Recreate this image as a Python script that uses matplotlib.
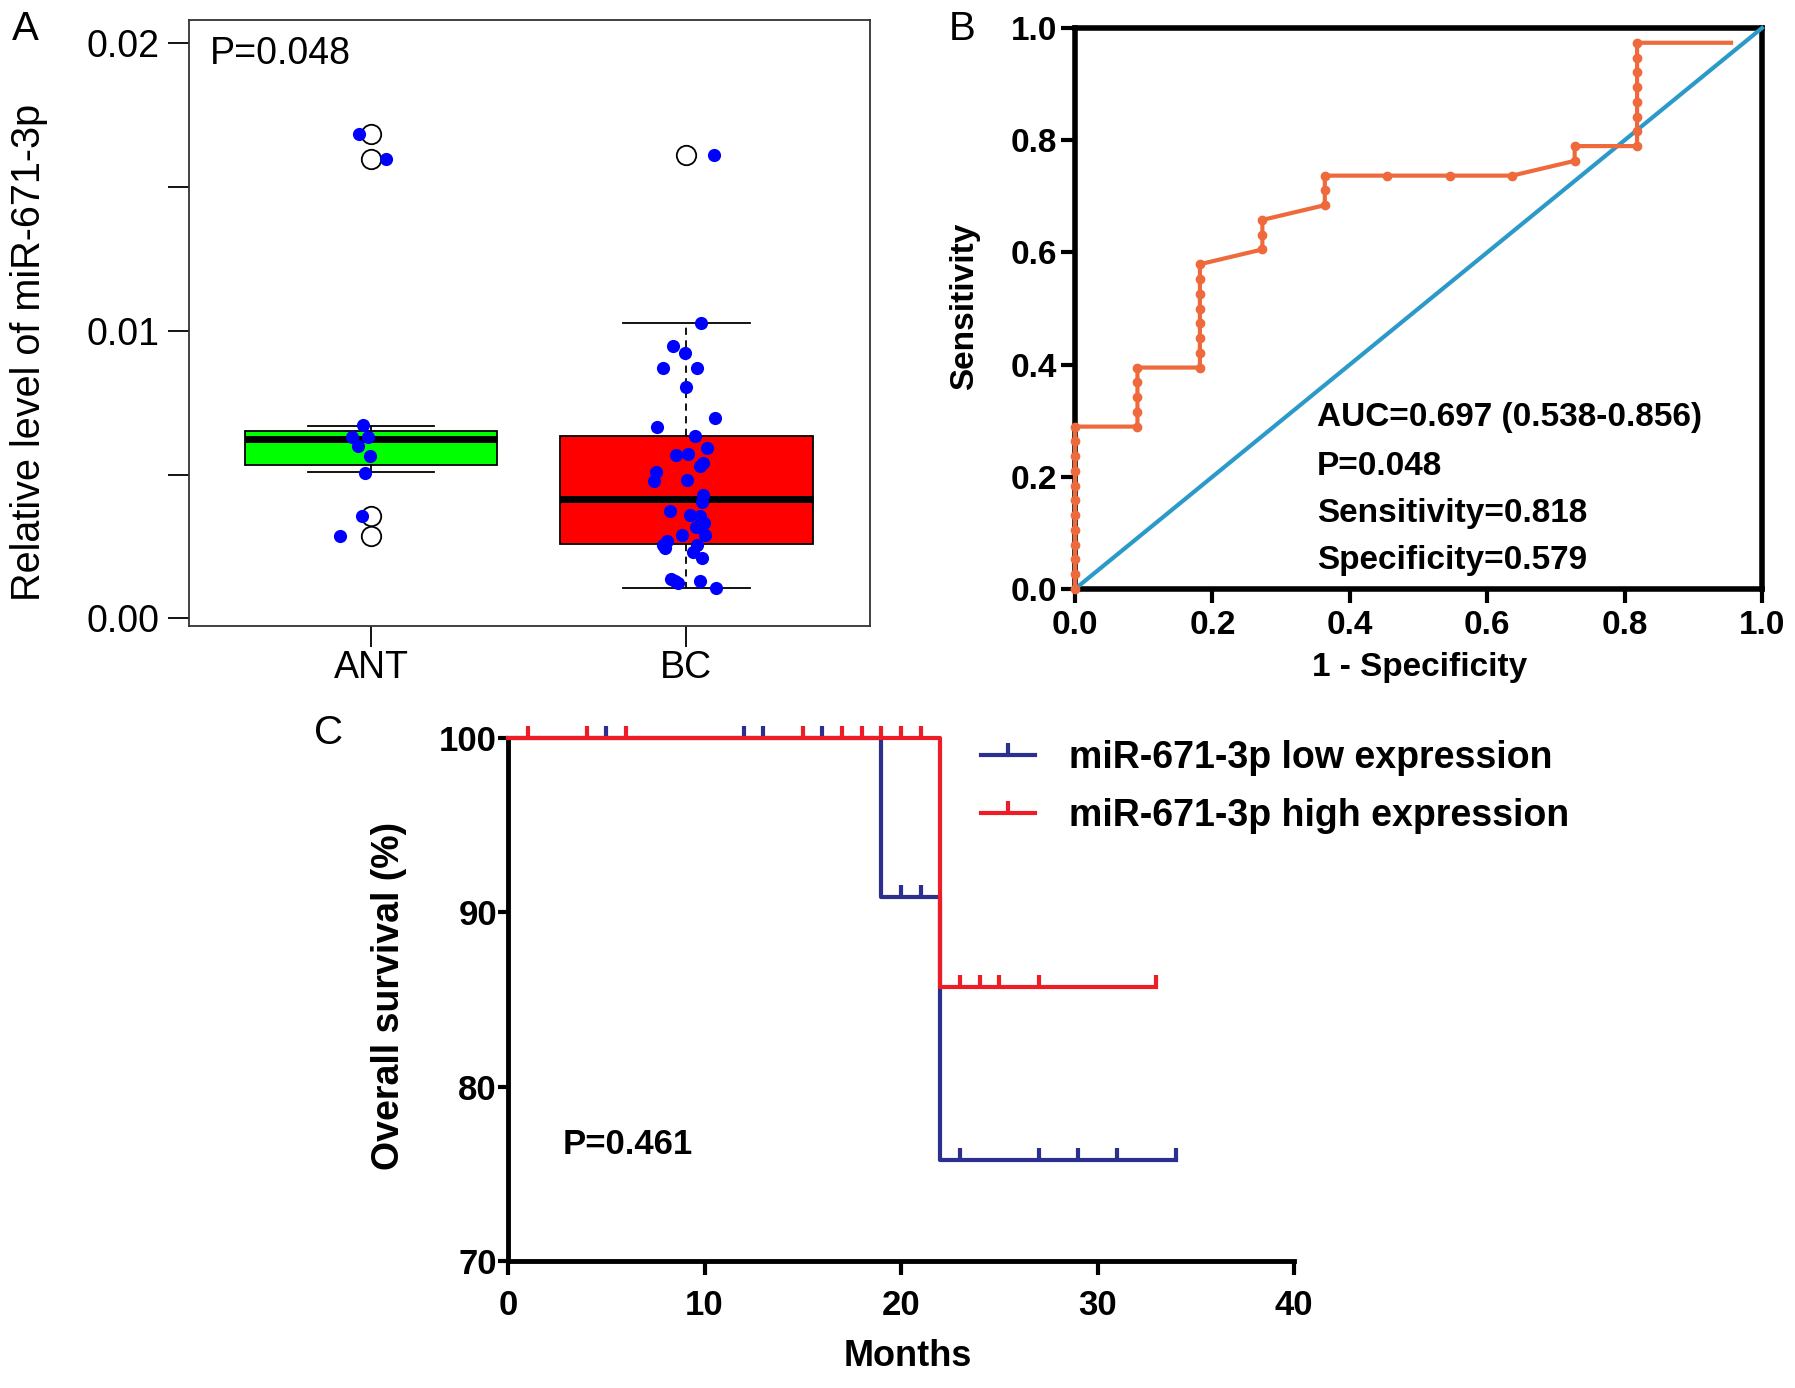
import matplotlib
matplotlib.use('Agg')
import matplotlib.pyplot as plt
from matplotlib.lines import Line2D

plt.rcParams['font.family'] = ['Liberation Sans', 'DejaVu Sans']

# ---- panel A data (boxplot + points) ----
groups = ['ANT', 'BC']
box_whislo = [0.00508, 0.00106]
box_q1 = [0.00533, 0.00258]
box_med = [0.00625, 0.00416]
box_q3 = [0.0065, 0.00634]
box_whishi = [0.00669, 0.01028]
ant_out = [0.01684, 0.01598, 0.00356, 0.00286]
bc_out = [0.01611]
box_colors = ['#00FF00', '#FF0000']

ant_x = [0.963, 1.046, 0.973, 0.903, 0.976, 0.94, 0.989, 0.958, 0.996, 0.98]
ant_y = [0.01684, 0.01598, 0.00356, 0.00286, 0.00672, 0.0063, 0.0063, 0.00598, 0.00564, 0.00505]
bc_x = [2.046, 1.956, 1.996, 1.925, 2.035, 1.998, 2.090, 1.908, 2.027, 2.064,
        2.005, 1.967, 2.042, 2.053, 1.903, 1.896, 2.002, 2.053, 2.048, 1.947,
        2.042, 2.011, 2.057, 2.029, 2.060, 1.987, 1.938, 1.925, 1.932, 2.035,
        2.020, 2.048, 1.951, 1.965, 1.974, 2.042, 2.093, 2.086]
bc_y = [0.01028, 0.00947, 0.00923, 0.00869, 0.00869, 0.00806, 0.00695, 0.00664, 0.00634, 0.00591,
        0.00572, 0.00567, 0.00528, 0.00541, 0.00509, 0.00478, 0.00481, 0.00427, 0.00403, 0.00372,
        0.00356, 0.00359, 0.00333, 0.00317, 0.00291, 0.00291, 0.00270, 0.00255, 0.00244, 0.00255,
        0.00231, 0.00208, 0.00138, 0.00130, 0.00122, 0.00130, 0.00106, 0.01611]

# ---- panel B data (ROC) ----
roc_fpr = [0, 0, 0, 0, 0, 0, 0, 0, 0, 0, 0, 0,
           1/11, 1/11, 1/11, 1/11, 1/11,
           2/11, 2/11, 2/11, 2/11, 2/11, 2/11, 2/11, 2/11,
           3/11, 3/11, 3/11,
           4/11, 4/11, 4/11,
           5/11, 6/11, 7/11,
           8/11, 8/11,
           9/11, 9/11, 9/11, 9/11, 9/11, 9/11, 9/11, 9/11,
           0.955]
roc_tpr_n = [0, 1, 2, 3, 4, 5, 6, 7, 8, 9, 10, 11,
             11, 12, 13, 14, 15,
             15, 16, 17, 18, 19, 20, 21, 22,
             23, 24, 25,
             26, 27, 28,
             28, 28, 28,
             29, 30,
             30, 31, 32, 33, 34, 35, 36, 37,
             37]
roc_tpr = [v / 38 for v in roc_tpr_n]
roc_text = ['AUC=0.697 (0.538-0.856)', 'P=0.048', 'Sensitivity=0.818', 'Specificity=0.579']
roc_text_y = [0.306, 0.218, 0.134, 0.050]

# ---- panel C data (Kaplan-Meier) ----
low_t = [0, 19, 19, 22, 22, 34]
low_s = [100, 100, 90.9, 90.9, 75.8, 75.8]
low_cens_t = [5, 12, 13, 16, 20, 21, 23, 27, 29, 31, 34]
low_cens_s = [100, 100, 100, 100, 90.9, 90.9, 75.8, 75.8, 75.8, 75.8, 75.8]
high_t = [0, 22, 22, 33]
high_s = [100, 100, 85.7, 85.7]
high_cens_t = [1, 4, 6, 15, 17, 18, 19, 20, 21, 23, 24, 25, 27, 33]
high_cens_s = [100] * 9 + [85.7] * 5
km_blue = '#2B2F8F'
km_red = '#EE1C25'

W, H = 1795, 1388
fig = plt.figure(figsize=(W / 100, H / 100), dpi=100)


def rect(l, t, r, b):
    return [l / W, 1 - b / H, (r - l) / W, (b - t) / H]


# ================= A =================
axA = fig.add_axes(rect(189, 20, 870, 626))
stats = []
for i in range(2):
    stats.append(dict(whislo=box_whislo[i], q1=box_q1[i], med=box_med[i], q3=box_q3[i],
                      whishi=box_whishi[i], fliers=[ant_out, bc_out][i]))
bp = axA.bxp(stats, positions=[1, 2], widths=0.8, capwidths=0.4, patch_artist=True,
             boxprops=dict(edgecolor='black', linewidth=1.3),
             medianprops=dict(color='black', linewidth=5, solid_capstyle='butt'),
             whiskerprops=dict(color='black', linestyle=(0, (4, 3)), linewidth=1.3),
             capprops=dict(color='black', linewidth=1.3),
             flierprops=dict(marker='o', markerfacecolor='white', markeredgecolor='black',
                             markersize=14, markeredgewidth=1.3))
for patch, c in zip(bp['boxes'], box_colors):
    patch.set_facecolor(c)
axA.scatter(ant_x, ant_y, s=90, color='#0000FF', zorder=5, linewidths=0)
axA.scatter(bc_x, bc_y, s=90, color='#0000FF', zorder=5, linewidths=0)
axA.set_xlim(0.423, 2.582)
axA.set_ylim(-0.00027, 0.02081)
axA.set_yticks([0, 0.01, 0.02])
axA.set_yticklabels(['0.00', '0.01', '0.02'])
axA.set_yticks([0.005, 0.015], minor=True)
axA.set_xticks([1, 2])
axA.set_xticklabels(groups)
axA.tick_params(axis='both', which='both', direction='out', length=15, width=1.3,
                labelsize=27, colors='black')
axA.tick_params(axis='y', pad=6)
axA.tick_params(axis='x', pad=2)
for s in axA.spines.values():
    s.set_linewidth(1.3)
    s.set_color('#333333')
axA.text(0.031, 0.944, 'P=0.048', transform=axA.transAxes, fontsize=27,
         ha='left', va='center')
fig.text(29 / W, 1 - 352 / H, 'Relative level of miR-671-3p', rotation=90,
         fontsize=28.5, ha='center', va='center')

# ================= B =================
axB = fig.add_axes(rect(1075, 28, 1762, 589))
axB.plot([0, 1], [0, 1], color='#2C9AC8', linewidth=3, clip_on=False, zorder=3)
axB.plot(roc_fpr, roc_tpr, color='#EE6A3C', linewidth=3, marker='o', markersize=6,
         markevery=list(range(len(roc_fpr) - 1)), clip_on=False, zorder=4)
axB.set_xlim(0, 1)
axB.set_ylim(0, 1)
ticks = [0, 0.2, 0.4, 0.6, 0.8, 1.0]
axB.set_xticks(ticks)
axB.set_yticks(ticks)
axB.set_xticklabels(['%.1f' % t for t in ticks], fontweight='bold')
axB.set_yticklabels(['%.1f' % t for t in ticks], fontweight='bold')
axB.tick_params(direction='out', length=10, width=3, labelsize=24)
axB.tick_params(axis='x', pad=5)
axB.tick_params(axis='y', pad=3)
for s in axB.spines.values():
    s.set_linewidth(4)
for txt, ty in zip(roc_text, roc_text_y):
    axB.text(0.352, ty, txt, fontsize=24, fontweight='bold', ha='left', va='center')
fig.text(965 / W, 1 - 306 / H, 'Sensitivity', rotation=90, fontsize=24,
         fontweight='bold', ha='center', va='center')
fig.text(1420 / W, 1 - 667 / H, '1 - Specificity', fontsize=24,
         fontweight='bold', ha='center', va='center')

# ================= C =================
axC = fig.add_axes(rect(508, 738, 1294, 1261))
tick_marker = [(0, 0), (0, 1)]
axC.plot(low_t, low_s, color=km_blue, linewidth=3, clip_on=False, zorder=3)
axC.plot(high_t, high_s, color=km_red, linewidth=3, clip_on=False, zorder=4)
axC.plot(low_cens_t, low_cens_s, linestyle='none', marker=tick_marker, markersize=17,
         markeredgecolor=km_blue, markeredgewidth=3, clip_on=False, zorder=3)
axC.plot(high_cens_t, high_cens_s, linestyle='none', marker=tick_marker, markersize=17,
         markeredgecolor=km_red, markeredgewidth=3, clip_on=False, zorder=4)
axC.set_xlim(0, 40)
axC.set_ylim(70, 100)
axC.set_xticks([0, 10, 20, 30, 40])
axC.set_yticks([70, 80, 90, 100])
for lab in axC.get_xticklabels() + axC.get_yticklabels():
    lab.set_fontweight('bold')
axC.tick_params(direction='out', width=3, labelsize=25)
axC.tick_params(axis='x', length=10, pad=10)
axC.tick_params(axis='y', length=7, pad=1)
axC.spines['top'].set_visible(False)
axC.spines['right'].set_visible(False)
axC.spines['left'].set_linewidth(3.5)
axC.spines['bottom'].set_linewidth(3.5)
axC.text(2.77, 76.7, 'P=0.461', fontsize=25, fontweight='bold', ha='left', va='center')
handles = [Line2D([0], [0], color=km_blue, linewidth=3, marker=tick_marker, markersize=17,
                  markeredgewidth=3),
           Line2D([0], [0], color=km_red, linewidth=3, marker=tick_marker, markersize=17,
                  markeredgewidth=3)]
fig.legend(handles, ['miR-671-3p low expression', 'miR-671-3p high expression'],
           loc='upper left', bbox_to_anchor=(981 / W, 1 - 740 / H), frameon=False,
           numpoints=1, handlelength=1.45, handletextpad=0.9, labelspacing=0.58,
           prop=dict(size=27, weight='bold'), borderaxespad=0, borderpad=0)
fig.text(908 / W, 1 - 1357 / H, 'Months', fontsize=26, fontweight='bold',
         ha='center', va='center')
fig.text(389 / W, 1 - 996 / H, 'Overall survival (%)', rotation=90, fontsize=27,
         fontweight='bold', ha='center', va='center')

# panel letters
fig.text(25 / W, 1 - 29 / H, 'A', fontsize=29, ha='center', va='center')
fig.text(962 / W, 1 - 29 / H, 'B', fontsize=29, ha='center', va='center')
fig.text(329 / W, 1 - 733 / H, 'C', fontsize=29, ha='center', va='center')

fig.savefig('out.png', dpi=100)
